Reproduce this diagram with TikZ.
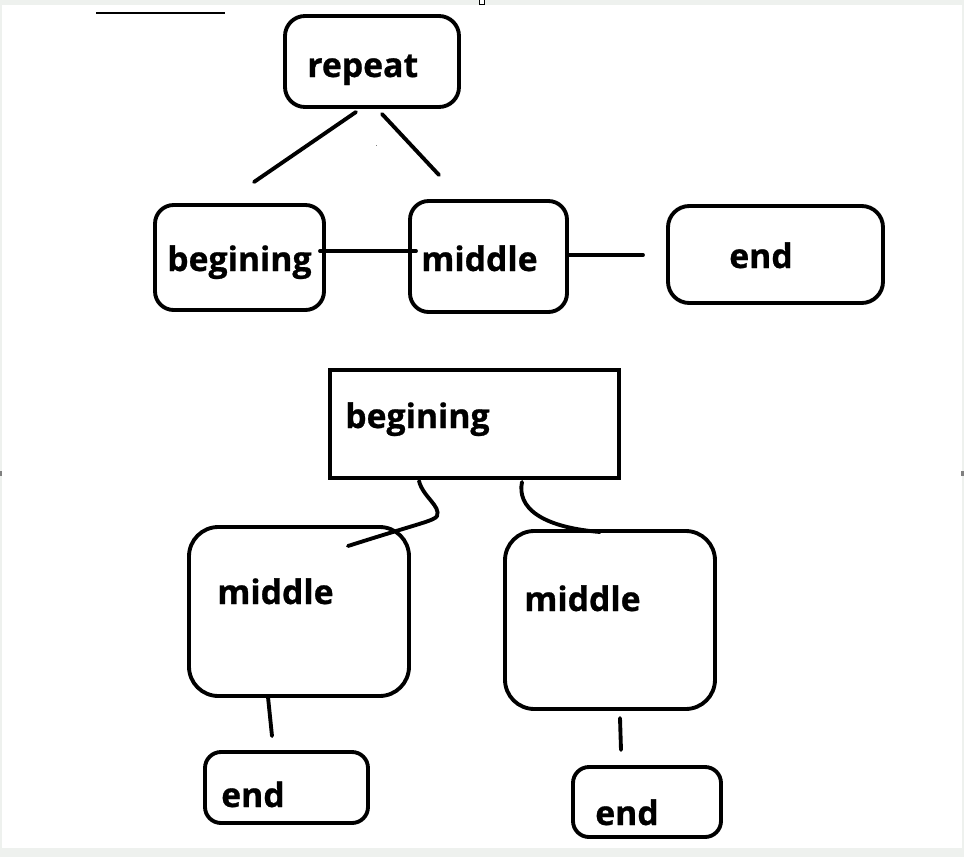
\documentclass[tikz,border=0pt]{standalone}
\usepackage{fontspec}
\setmainfont{Open Sans}
\newfontfamily\lblfont{Open Sans}[UprightFont=*,BoldFont=* Bold,BoldFeatures={FakeBold=0.8}]
\definecolor{frame}{HTML}{EEF1EE}
\begin{document}
\begin{tikzpicture}[x=0.75pt,y=-0.75pt,
  box/.style={draw=black,line width=2.9pt,rounded corners=#1,inner sep=0pt,outer sep=0pt},
  box/.default=14pt,
  sq/.style={draw=black,line width=2.9pt,inner sep=0pt,outer sep=0pt},
  lbl/.style={anchor=base west,inner sep=0pt,font=\lblfont\bfseries\fontsize{25.3}{28}\selectfont},
  conn/.style={line width=2.9pt,line cap=round}]
\fill[frame] (0,0) rectangle (964,857);
\fill[white] (2,5) rectangle (962,848);
\useasboundingbox (0,0) rectangle (964,857);
\draw[line width=1.2pt] (96,13) -- (225,13);
\fill[gray] (375.5,144.5) rectangle (377,146);
% boxes
\node[box=15pt,minimum width=130.5pt,minimum height=68.25pt] (rep) at (372,61.5) {};
\node[box=14pt,minimum width=126.75pt,minimum height=78.75pt] (beg1) at (239.5,257.5) {};
\node[box=14pt,minimum width=117.75pt,minimum height=83.25pt] (mid1) at (488.5,256.5) {};
\node[box=16pt,minimum width=161.25pt,minimum height=72.75pt] (end1) at (775.5,254.5) {};
\node[sq,minimum width=216.75pt,minimum height=81pt] (beg2) at (474.5,424) {};
\node[box=22pt,minimum width=165pt,minimum height=126.75pt] (mid2l) at (299,611.5) {};
\node[box=22pt,minimum width=157.5pt,minimum height=133.5pt] (mid2r) at (610,620) {};
\node[box=12pt,minimum width=122.25pt,minimum height=53.25pt] (end2l) at (286.5,787.5) {};
\node[box=12pt,minimum width=111pt,minimum height=52.5pt] (end2r) at (647,802) {};
% labels
\node[lbl] (trep) at (307,77) {repeat};
\node[lbl] (tbeg1) at (167,271) {begining};
\node[lbl] (tmid1) at (421,271) {middle};
\node[lbl] (tend1) at (729,268) {end};
\node[lbl] (tbeg2) at (345,428) {begining};
\node[lbl] (tmid2l) at (217,604) {middle};
\node[lbl] (tmid2r) at (524,611) {middle};
\node[lbl] (tend2l) at (221,807) {end};
\node[lbl] (tend2r) at (595,825) {end};
% connector end points
\coordinate (a1) at (356,112); \coordinate (a2) at (254,182);
\coordinate (b1) at (382,114); \coordinate (b2) at (439,175);
\coordinate (c1) at (320,251); \coordinate (c2) at (416,251);
\coordinate (d1) at (567,255); \coordinate (d2) at (643,255);
\coordinate (e1) at (419,481); \coordinate (e2) at (437,516); \coordinate (e3) at (348,546);
\coordinate (f1) at (522,482); \coordinate (f2) at (600,532);
\coordinate (g1) at (268,697); \coordinate (g2) at (272,736);
\coordinate (h1) at (620,718); \coordinate (h2) at (621,750);
\draw[conn] (a1) -- (a2);
\draw[conn] (b1) -- (b2);
\draw[conn] (c1) -- (c2);
\draw[conn] (d1) -- (d2);
\draw[conn] (e1) .. controls (423,497) and (441,506) .. (e2) .. controls (434,521) and (420,523) .. (e3);
\draw[conn] (f1) .. controls (517,507) and (540,527) .. (f2);
\draw[conn] (g1) -- (g2);
\draw[conn] (h1) -- (h2);
% handles
\draw[line width=0.6pt,fill=white] (479.5,-1) rectangle (484.5,4);
\fill[gray] (961,471) rectangle (964,476);
\fill[gray] (0,471) rectangle (2,476);
\end{tikzpicture}
\end{document}
